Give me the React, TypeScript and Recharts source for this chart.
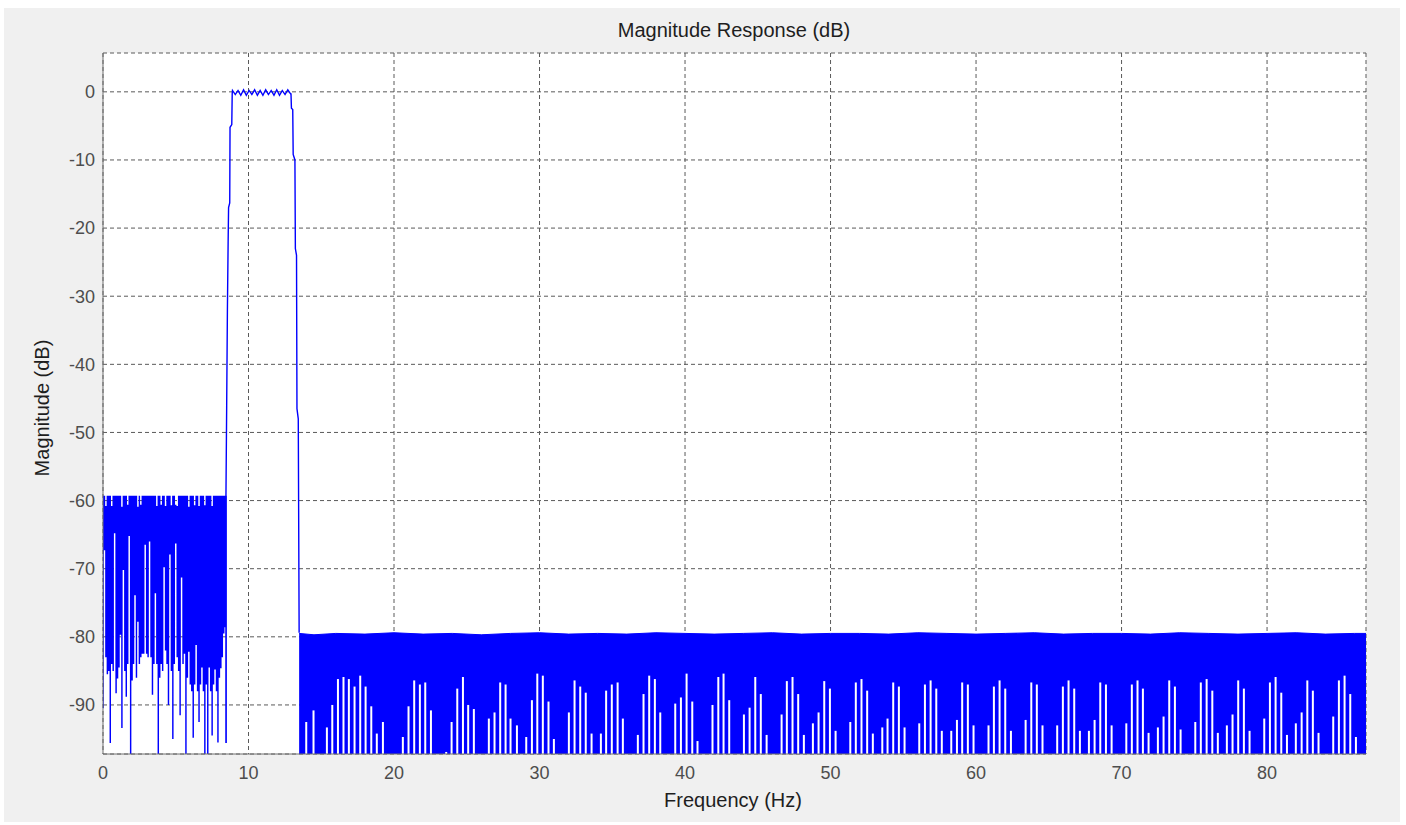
import { Area, Bar, CartesianGrid, ComposedChart, Line, XAxis, YAxis } from "recharts";

// magnitude response (dB vs Hz)
const FLOOR = -97.2;
const freqTicks = [0, 10, 20, 30, 40, 50, 60, 70, 80];
const dbTicks = [-90, -80, -70, -60, -50, -40, -30, -20, -10, 0];

// low stopband 0 .. 8.5 Hz, one column every 0.1 Hz: lowest and highest value per column
const lowBandStep = 0.1;
const lowBandMin = [
  -90.5, -67.3, -83, -85.5, -85, -95.6, -84, -85, -64.8, -88.3,
  -86.1, -84.5, -79.7, -93.4, -70.2, -85, -88.8, -84, -65.2, -97.2,
  -86.4, -84, -73.9, -86, -77.8, -84, -83, -82.5, -82.5, -66.5,
  -82.5, -83, -66, -83, -88.5, -84, -73.6, -84, -97.2, -86,
  -84, -85, -69.8, -82, -84, -90, -67.9, -85, -95, -84,
  -66.3, -83, -85, -91.5, -71.3, -84, -82.5, -97.2, -86, -82.2,
  -87, -88, -94.8, -87, -81.2, -88, -92.5, -87, -84.5, -88,
  -97.2, -87, -97.2, -84.5, -88, -94.5, -87, -84.8, -88, -95.5,
  -86, -84.6, -83, -79.5, -78.6, -95.6,
];
const lowBandTop = [
  -59.3, -59.3, -60.8, -59.3, -59.3, -59.3, -60.8, -59.3, -59.3, -59.3,
  -59.3, -59.3, -59.3, -60.9, -59.3, -59.3, -59.3, -60.6, -59.3, -59.3,
  -59.3, -59.3, -59.3, -59.3, -60.9, -59.3, -60.6, -59.3, -59.3, -59.3,
  -59.3, -59.3, -59.3, -59.3, -59.3, -59.3, -59.3, -60.8, -59.3, -59.3,
  -60.6, -59.3, -59.3, -60.8, -59.3, -59.3, -59.3, -60.7, -59.3, -59.3,
  -60.6, -60.8, -59.3, -59.3, -59.3, -59.3, -59.3, -59.3, -59.3, -60.9,
  -59.3, -59.3, -59.3, -60.7, -59.3, -59.3, -60.8, -59.3, -59.3, -59.3,
  -60.7, -59.3, -59.3, -59.3, -59.3, -60.8, -59.3, -59.3, -59.3, -59.3,
  -59.3, -59.3, -59.3, -59.3, -59.3, -59.3,
];

// transition bands and passband ripple
const riseFreqs = [8.45, 8.45, 8.5, 8.55, 8.6, 8.63, 8.71, 8.73, 8.85, 8.88];
const riseDb = [-95.6, -59.4, -46, -32, -22, -17, -16.3, -5.2, -4.8, -0.3];
const rippleFreqs = [
  8.9, 9.09, 9.28, 9.47, 9.66, 9.85, 10.04, 10.23, 10.42, 10.61, 10.8,
  10.99, 11.18, 11.37, 11.56, 11.75, 11.94, 12.13, 12.32, 12.51, 12.7, 12.89,
];
const rippleDb = [
  0.2, -0.4, 0.2, -0.5, 0.3, -0.5, 0.2, -0.4, 0.3, -0.5, 0.2,
  -0.5, 0.3, -0.4, 0.2, -0.5, 0.3, -0.5, 0.2, -0.4, 0.3, -0.3,
];
const fallFreqs = [12.92, 12.95, 13.04, 13.07, 13.19, 13.22, 13.3, 13.33, 13.42, 13.48];
const fallDb = [-0.3, -2.4, -2.6, -9.2, -10, -23, -24, -46.5, -48, -79.4];

// upper stopband: top of the dense ripple
const stopTopFreqs = [
  13.48, 14.5, 16, 18, 20, 22, 24, 26, 28, 30, 32, 34, 36, 38, 40, 42, 44, 46, 48, 50,
  52, 54, 56, 58, 60, 62, 64, 66, 68, 70, 72, 74, 76, 78, 80, 82, 84, 86, 86.8,
];
const stopTopDb = [
  -79.5, -79.7, -79.5, -79.6, -79.4, -79.6, -79.5, -79.7, -79.5, -79.4, -79.6, -79.5, -79.6,
  -79.4, -79.5, -79.6, -79.5, -79.4, -79.6, -79.5, -79.5, -79.6, -79.4, -79.5, -79.6, -79.5,
  -79.4, -79.6, -79.5, -79.5, -79.6, -79.4, -79.5, -79.6, -79.5, -79.4, -79.6, -79.5, -79.5,
];

// columns in the upper stopband whose minimum stays above the floor (white gaps)
const gapFreqs = [
  14.0, 14.5, 15.42, 15.79, 16.18, 16.56, 16.93, 17.32, 17.71, 18.08, 18.47, 18.85, 19.27,
  20.64, 21.03, 21.42, 21.81, 22.18, 22.57, 23.62, 23.99, 24.38, 24.77, 25.13, 25.52,
  26.55, 26.94, 27.33, 27.7, 28.04, 28.48, 29.12, 29.51, 29.88, 30.26, 30.65, 31.02,
  32.05, 32.44, 32.83, 33.21, 33.61, 34.25, 34.61, 35.0, 35.4, 35.76, 36.79, 37.18,
  37.57, 37.96, 38.33, 39.36, 39.75, 40.14, 40.53, 40.89, 41.92, 42.32, 42.68, 43.07,
  44.08, 44.47, 44.86, 45.24, 45.64, 46.67, 47.03, 47.42, 47.81, 48.2, 48.82, 49.21,
  49.6, 49.99, 50.38, 51.39, 51.77, 52.16, 52.55, 52.94, 53.59, 53.95, 54.34, 54.73,
  55.12, 56.13, 56.52, 56.91, 57.3, 57.68, 58.33, 58.72, 59.08, 59.47, 59.86, 60.89,
  61.26, 61.65, 62.04, 62.43, 63.44, 63.83, 64.21, 64.6, 65.61, 66.0, 66.39, 66.78,
  67.17, 67.79, 68.18, 68.57, 68.96, 69.35, 70.36, 70.74, 71.13, 71.5, 71.89, 72.53,
  72.92, 73.31, 73.7, 74.09, 75.1, 75.48, 75.88, 76.27, 76.65, 77.27, 77.66, 78.05,
  78.44, 78.83, 79.84, 80.23, 80.62, 81.01, 81.4, 82.01, 82.41, 82.8, 83.18, 83.57,
  84.58, 84.97, 85.36, 85.75, 86.14,
];
const gapDb = [
  -92.5, -90.8, -93.3, -90.0, -86.2, -85.9, -86.2, -87.3, -85.7, -87.3, -90.2, -94.2, -92.5,
  -94.7, -90.2, -86.4, -87.0, -86.7, -90.8, -96.9, -92.5, -87.6, -85.9, -90.0, -90.6,
  -92.0, -91.1, -86.7, -87.0, -92.0, -93.0, -94.7, -89.3, -85.4, -85.7, -89.5, -95.0,
  -91.1, -86.4, -87.3, -88.2, -94.2, -94.2, -87.9, -87.0, -86.7, -92.0, -94.4, -88.4,
  -85.7, -86.2, -91.1, -89.8, -88.9, -85.4, -89.5, -95.3, -90.0, -85.9, -85.4, -89.3,
  -91.4, -90.4, -85.9, -88.4, -94.4, -91.4, -86.5, -85.9, -88.4, -94.4, -92.7, -91.1,
  -86.5, -87.6, -93.8, -92.5, -86.7, -86.2, -87.9, -94.2, -93.3, -92.0, -86.7, -87.3,
  -93.3, -92.7, -87.0, -86.4, -87.6, -93.8, -93.8, -92.2, -86.7, -87.0, -93.0, -93.0,
  -87.3, -86.4, -87.6, -93.8, -92.2, -86.7, -87.0, -93.0, -93.0, -87.3, -86.4, -87.6,
  -93.8, -93.8, -92.2, -86.7, -87.0, -93.0, -92.7, -87.0, -86.4, -87.6, -94.1, -93.3,
  -91.7, -86.4, -87.3, -93.6, -92.5, -86.7, -86.2, -87.9, -94.1, -93.0, -91.4, -86.4,
  -87.6, -93.8, -92.0, -86.7, -85.9, -88.2, -94.4, -92.7, -91.1, -86.4, -87.9, -94.1,
  -91.7, -86.4, -85.7, -88.4, -94.7,
];

const BLUE = "#0000ff";
const FONT = "'Liberation Sans', Arial, sans-serif";

const lowBandRows = lowBandMin.map((lo, i) => ({
  f: i * lowBandStep,
  range: [lo, lowBandTop[i]],
}));

const edgeRows = [
  ...riseFreqs.map((f, i) => ({ f, db: riseDb[i] })),
  ...rippleFreqs.map((f, i) => ({ f, db: rippleDb[i] })),
  ...fallFreqs.map((f, i) => ({ f, db: fallDb[i] })),
];

const stopRows = stopTopFreqs.map((f, i) => ({ f, range: [FLOOR, stopTopDb[i]] }));

const gapRows = gapFreqs.map((f, i) => ({ f, gap: [FLOOR, gapDb[i]] }));

const axisLine = { stroke: "#707070", strokeWidth: 1 };
const tickLine = { stroke: "#707070" };
const tickStyle = { fill: "#4d4d4d", fontSize: 18, fontFamily: FONT };

const labelStyle = {
  position: "absolute" as const,
  fontFamily: FONT,
  fontSize: 20,
  lineHeight: "20px",
  color: "#1e1e1e",
  whiteSpace: "nowrap" as const,
};

export default function App() {
  return (
    <div style={{ position: "absolute", left: 0, top: 0, width: 1406, height: 825, background: "#fff" }}>
      <style>{"body{margin:0}"}</style>
      <div style={{ position: "absolute", left: 4, top: 8, width: 1396, height: 814, background: "#f0f0f0" }} />
      <div style={{ position: "absolute", left: 0, top: 0 }}>
        <ComposedChart
          width={1406}
          height={825}
          data={gapRows}
          margin={{ top: 53, right: 40, bottom: 31, left: 43 }}
        >
          <CartesianGrid fill="#ffffff" stroke="#5a5a5a" strokeDasharray="4 3" />
          <XAxis
            dataKey="f"
            type="number"
            domain={[0, 86.8]}
            allowDataOverflow
            ticks={freqTicks}
            interval={0}
            height={40}
            axisLine={axisLine}
            tickLine={false}
            tickMargin={6}
            tick={tickStyle}
          />
          <XAxis
            xAxisId="top"
            dataKey="f"
            type="number"
            orientation="top"
            domain={[0, 86.8]}
            allowDataOverflow
            ticks={freqTicks}
            interval={0}
            height={0}
            axisLine={axisLine}
            tickLine={tickLine}
            tickSize={-6}
            tickFormatter={() => ""}
          />
          <XAxis xAxisId="gaps" dataKey="f" type="number" domain={[0, 86.8]} allowDataOverflow hide />
          <YAxis
            type="number"
            domain={[FLOOR, 5.7]}
            allowDataOverflow
            ticks={dbTicks}
            interval={0}
            width={60}
            axisLine={axisLine}
            tickLine={false}
            tickMargin={2}
            tick={tickStyle}
          />
          <YAxis
            yAxisId="right"
            type="number"
            orientation="right"
            domain={[FLOOR, 5.7]}
            allowDataOverflow
            ticks={dbTicks}
            interval={0}
            width={0}
            axisLine={axisLine}
            tickLine={tickLine}
            tickSize={-6}
            tickFormatter={() => ""}
          />
          <Area
            data={lowBandRows}
            dataKey="range"
            type="step"
            stroke="none"
            fill={BLUE}
            fillOpacity={1}
            dot={false}
            activeDot={false}
            isAnimationActive={false}
          />
          <Area
            data={stopRows}
            dataKey="range"
            type="linear"
            stroke={BLUE}
            strokeWidth={1}
            fill={BLUE}
            fillOpacity={1}
            dot={false}
            activeDot={false}
            isAnimationActive={false}
          />
          <Bar
            xAxisId="gaps"
            dataKey="gap"
            fill="#ffffff"
            barSize={2}
            isAnimationActive={false}
          />
          <Line
            data={edgeRows}
            dataKey="db"
            type="linear"
            stroke={BLUE}
            strokeWidth={1.4}
            dot={false}
            activeDot={false}
            isAnimationActive={false}
          />
        </ComposedChart>
      </div>
      <div style={{ ...labelStyle, left: 734, top: 20, transform: "translateX(-50%)" }}>
        Magnitude Response (dB)
      </div>
      <div style={{ ...labelStyle, left: 733, top: 790, transform: "translateX(-50%)" }}>
        Frequency (Hz)
      </div>
      <div
        style={{
          ...labelStyle,
          left: 42,
          top: 408,
          transform: "translate(-50%, -50%) rotate(-90deg)",
        }}
      >
        Magnitude (dB)
      </div>
    </div>
  );
}
